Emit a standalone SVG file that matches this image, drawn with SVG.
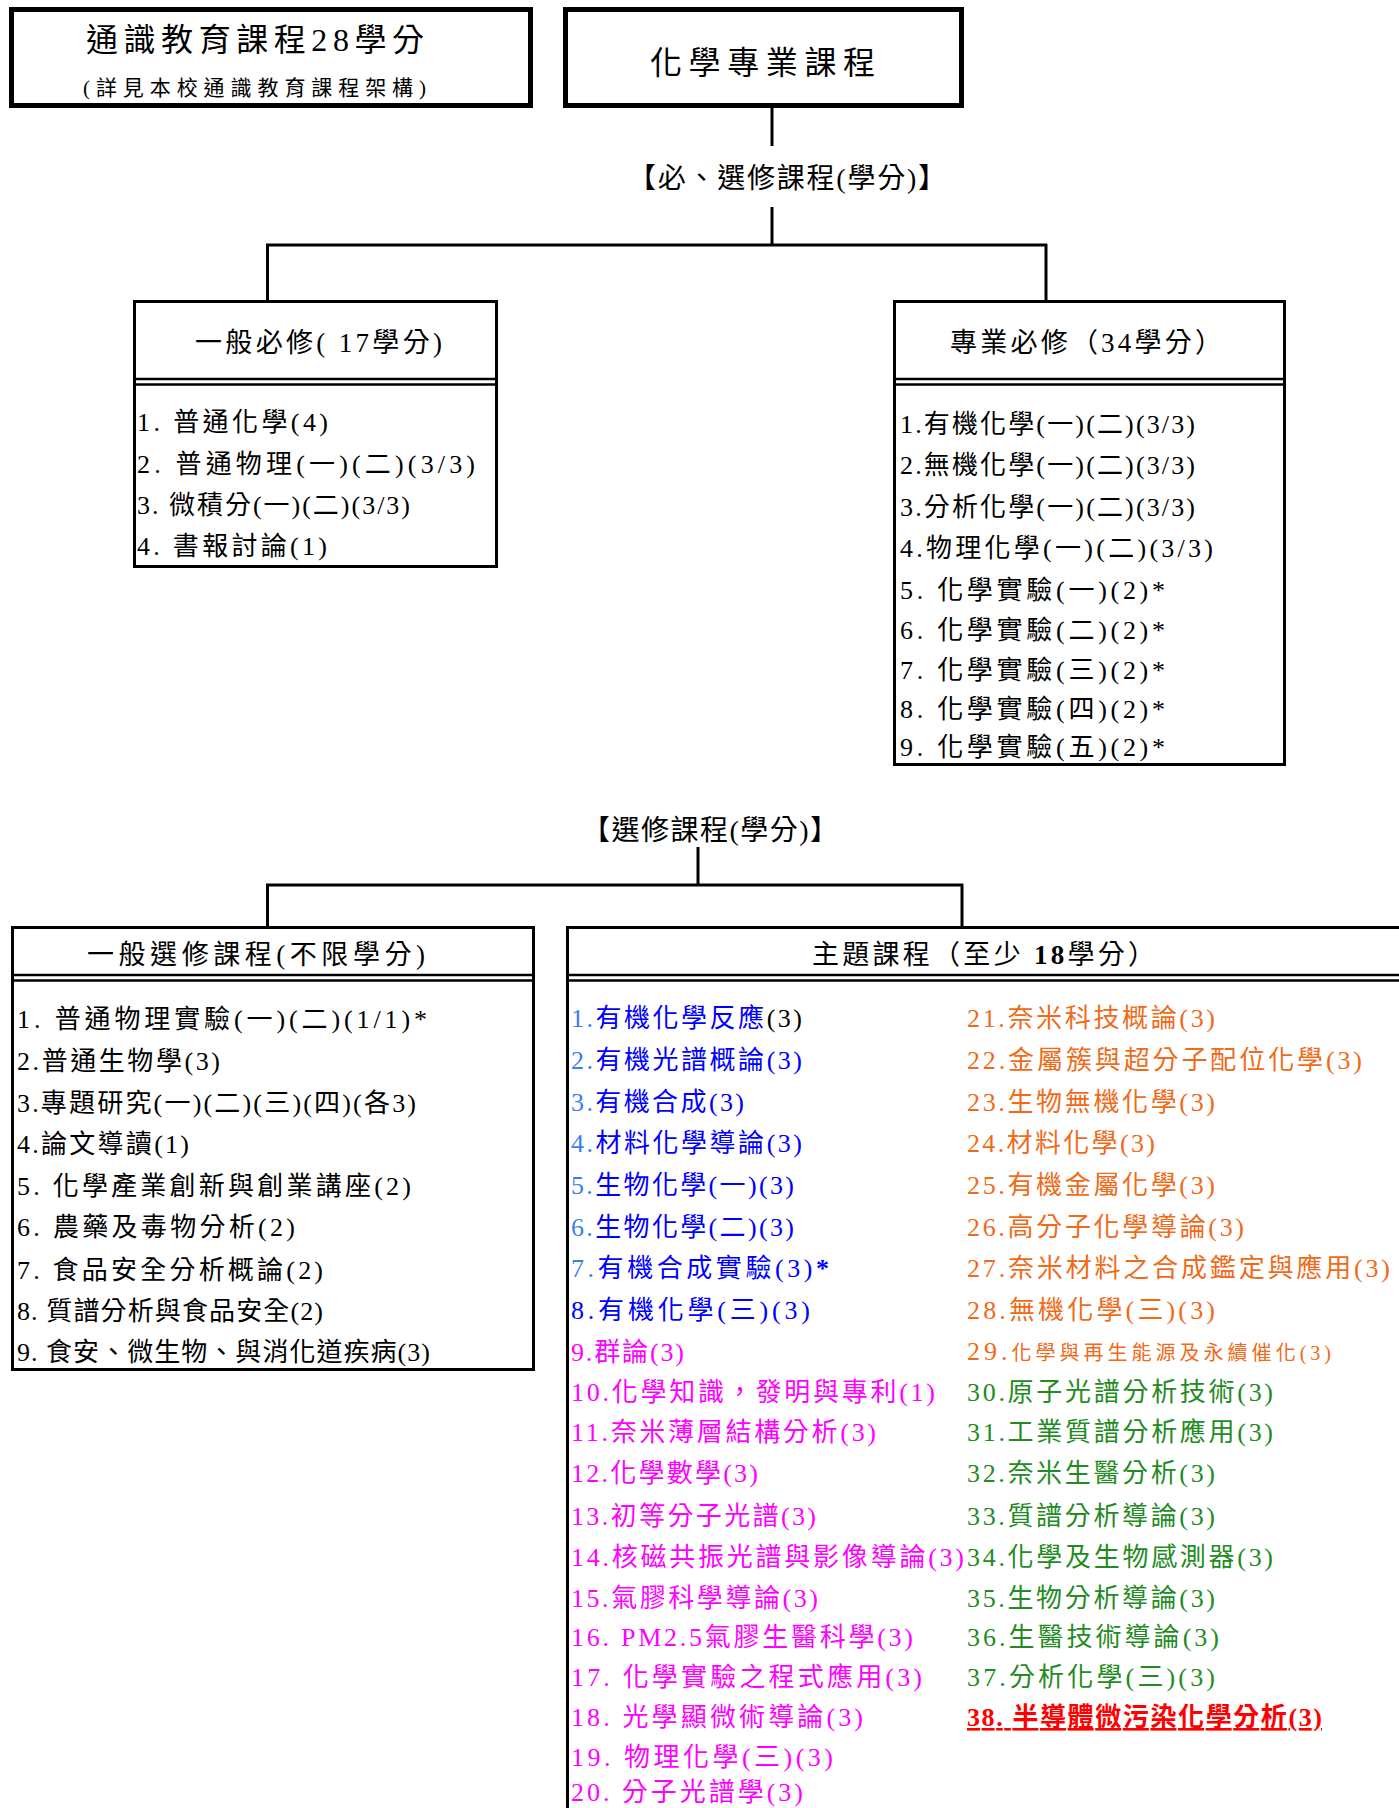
<svg xmlns="http://www.w3.org/2000/svg" width="1399" height="1808" viewBox="0 0 1399 1808">
<style>
  text{font-family:"Liberation Serif","Noto Sans CJK TC",serif;fill:#000}
  .box{fill:#fff;stroke:#000;stroke-width:3}
  .thick{stroke-width:5}
  .div{stroke:#000;stroke-width:2.5}
  .conn{fill:none;stroke:#000;stroke-width:3}
  .h30{font-size:32px}
  .h26{font-size:27px}
  .lab{font-size:28px}
  .it{font-size:26px}
  .lb{fill:#3a7ff0}
  .bl{fill:#0000ff}
  .mg{fill:#ff00ff}
  .or{fill:#f06a18}
  .gr{fill:#228b22}
  .rd{fill:#ff0000;font-weight:bold;text-decoration:underline}
</style>
<rect width="1399" height="1808" fill="#fff"/>

<g id="connectors">
  <path class="conn" d="M772,108 V146 M772,207 V245 M266,245 H1047 M267.5,244 V301 M1046,244 V301"/>
  <path class="conn" d="M698,847 V885 M266,885 H963 M267.5,884 V926 M962,884 V926"/>
</g>

<g id="general-education">
  <rect class="box thick" x="11.5" y="9.5" width="519" height="96"/>
  <text class="h30" x="86" y="51" textLength="338" lengthAdjust="spacing">通識教育課程28學分</text>
  <text x="83" y="95" font-size="21" textLength="343" lengthAdjust="spacing">(詳見本校通識教育課程架構)</text>
</g>

<g id="chem-program">
  <rect class="box thick" x="565.5" y="9.5" width="396" height="96"/>
  <text class="h30" x="650" y="74" textLength="225" lengthAdjust="spacing">化學專業課程</text>
</g>

<g id="label-required">
  <text class="lab" x="628" y="188" textLength="318" lengthAdjust="spacing">【必、選修課程(學分)】</text>
</g>

<g id="general-required">
  <rect class="box" x="134.5" y="301.5" width="362" height="265"/>
  <line class="div" x1="134" y1="379" x2="497" y2="379"/>
  <line class="div" x1="134" y1="384.5" x2="497" y2="384.5"/>
  <text class="h26" x="195" y="352" textLength="247" lengthAdjust="spacing">一般必修( 17學分)</text>
  <text class="it" x="137" y="431" textLength="191" lengthAdjust="spacing">1. 普通化學(4)</text>
  <text class="it" x="137" y="473" textLength="338" lengthAdjust="spacing">2. 普通物理(一)(二)(3/3)</text>
  <text class="it" x="137" y="514" textLength="273" lengthAdjust="spacing">3. 微積分(一)(二)(3/3)</text>
  <text class="it" x="137" y="555" textLength="190" lengthAdjust="spacing">4. 書報討論(1)</text>
</g>

<g id="major-required">
  <rect class="box" x="894.5" y="301.5" width="390" height="463"/>
  <line class="div" x1="894" y1="379" x2="1286" y2="379"/>
  <line class="div" x1="894" y1="384.5" x2="1286" y2="384.5"/>
  <text class="h26" x="950" y="352" textLength="272" lengthAdjust="spacing">專業必修（34學分）</text>
  <text class="it" x="900" y="433" textLength="295" lengthAdjust="spacing">1.有機化學(一)(二)(3/3)</text>
  <text class="it" x="900" y="474" textLength="295" lengthAdjust="spacing">2.無機化學(一)(二)(3/3)</text>
  <text class="it" x="900" y="516" textLength="295" lengthAdjust="spacing">3.分析化學(一)(二)(3/3)</text>
  <text class="it" x="900" y="557" textLength="313" lengthAdjust="spacing">4.物理化學(一)(二)(3/3)</text>
  <text class="it" x="900" y="599" textLength="265" lengthAdjust="spacing">5. 化學實驗(一)(2)*</text>
  <text class="it" x="900" y="639" textLength="265" lengthAdjust="spacing">6. 化學實驗(二)(2)*</text>
  <text class="it" x="900" y="679" textLength="265" lengthAdjust="spacing">7. 化學實驗(三)(2)*</text>
  <text class="it" x="900" y="718" textLength="265" lengthAdjust="spacing">8. 化學實驗(四)(2)*</text>
  <text class="it" x="900" y="756" textLength="265" lengthAdjust="spacing">9. 化學實驗(五)(2)*</text>
</g>

<g id="label-elective">
  <text class="lab" x="582" y="840" textLength="256" lengthAdjust="spacing">【選修課程(學分)】</text>
</g>

<g id="general-elective">
  <rect class="box" x="12.5" y="927.5" width="521" height="442"/>
  <line class="div" x1="12" y1="975" x2="534" y2="975"/>
  <line class="div" x1="12" y1="980.5" x2="534" y2="980.5"/>
  <text class="h26" x="87" y="964" textLength="338" lengthAdjust="spacing">一般選修課程(不限學分)</text>
  <text class="it" x="17" y="1028" textLength="410" lengthAdjust="spacing">1. 普通物理實驗(一)(二)(1/1)*</text>
  <text class="it" x="17" y="1070" textLength="203" lengthAdjust="spacing">2.普通生物學(3)</text>
  <text class="it" x="17" y="1112" textLength="399" lengthAdjust="spacing">3.專題研究(一)(二)(三)(四)(各3)</text>
  <text class="it" x="17" y="1153" textLength="172" lengthAdjust="spacing">4.論文導讀(1)</text>
  <text class="it" x="17" y="1195" textLength="394" lengthAdjust="spacing">5. 化學產業創新與創業講座(2)</text>
  <text class="it" x="17" y="1236" textLength="278" lengthAdjust="spacing">6. 農藥及毒物分析(2)</text>
  <text class="it" x="17" y="1279" textLength="306" lengthAdjust="spacing">7. 食品安全分析概論(2)</text>
  <text class="it" x="17" y="1320" textLength="306" lengthAdjust="spacing">8. 質譜分析與食品安全(2)</text>
  <text class="it" x="17" y="1361" textLength="413" lengthAdjust="spacing">9. 食安、微生物、與消化道疾病(3)</text>
</g>

<g id="thematic-courses">
  <path d="M1400,927.5 H567.5 V1810" fill="none" stroke="#000" stroke-width="3"/>
  <line class="div" x1="566" y1="975" x2="1399" y2="975"/>
  <line class="div" x1="566" y1="980.5" x2="1399" y2="980.5"/>
  <text class="h26" x="812" y="964" textLength="343" lengthAdjust="spacing">主題課程（至少 <tspan font-weight="bold">18</tspan>學分）</text>

  <text class="it" x="571" y="1027" textLength="231" lengthAdjust="spacing"><tspan class="lb">1.</tspan><tspan class="bl">有機化學反應</tspan>(3)</text>
  <text class="it bl" x="571" y="1069" textLength="231" lengthAdjust="spacing"><tspan class="lb">2.</tspan>有機光譜概論(3)</text>
  <text class="it bl" x="571" y="1111" textLength="173" lengthAdjust="spacing"><tspan class="lb">3.</tspan>有機合成(3)</text>
  <text class="it bl" x="571" y="1152" textLength="231" lengthAdjust="spacing"><tspan class="lb">4.</tspan>材料化學導論(3)</text>
  <text class="it bl" x="571" y="1194" textLength="223" lengthAdjust="spacing"><tspan class="lb">5.</tspan>生物化學(一)(3)</text>
  <text class="it bl" x="571" y="1236" textLength="223" lengthAdjust="spacing"><tspan class="lb">6.</tspan>生物化學(二)(3)</text>
  <text class="it bl" x="571" y="1277" textLength="258" lengthAdjust="spacing"><tspan class="lb">7.</tspan>有機合成實驗(3)<tspan font-weight="bold">*</tspan></text>
  <text class="it bl" x="571" y="1319" textLength="239" lengthAdjust="spacing">8.有機化學(三)(3)</text>
  <text class="it mg" x="571" y="1361" textLength="113" lengthAdjust="spacing">9.群論(3)</text>
  <text class="it mg" x="571" y="1401" textLength="364" lengthAdjust="spacing">10.化學知識，發明與專利(1)</text>
  <text class="it mg" x="571" y="1441" textLength="305" lengthAdjust="spacing">11.奈米薄層結構分析(3)</text>
  <text class="it mg" x="571" y="1482" textLength="187" lengthAdjust="spacing">12.化學數學(3)</text>
  <text class="it mg" x="571" y="1525" textLength="245" lengthAdjust="spacing">13.初等分子光譜(3)</text>
  <text class="it mg" x="571" y="1566" textLength="393" lengthAdjust="spacing">14.核磁共振光譜與影像導論(3)</text>
  <text class="it mg" x="571" y="1607" textLength="247" lengthAdjust="spacing">15.氣膠科學導論(3)</text>
  <text class="it mg" x="571" y="1646" textLength="342" lengthAdjust="spacing">16. PM2.5氣膠生醫科學(3)</text>
  <text class="it mg" x="571" y="1686" textLength="351" lengthAdjust="spacing">17. 化學實驗之程式應用(3)</text>
  <text class="it mg" x="571" y="1726" textLength="292" lengthAdjust="spacing">18. 光學顯微術導論(3)</text>
  <text class="it mg" x="571" y="1766" textLength="262" lengthAdjust="spacing">19. 物理化學(三)(3)</text>
  <text class="it mg" x="571" y="1801" textLength="232" lengthAdjust="spacing">20. 分子光譜學(3)</text>

  <text class="it or" x="967" y="1027" textLength="248" lengthAdjust="spacing">21.奈米科技概論(3)</text>
  <text class="it or" x="967" y="1069" textLength="395" lengthAdjust="spacing">22.金屬簇與超分子配位化學(3)</text>
  <text class="it or" x="967" y="1111" textLength="248" lengthAdjust="spacing">23.生物無機化學(3)</text>
  <text class="it or" x="967" y="1152" textLength="188" lengthAdjust="spacing">24.材料化學(3)</text>
  <text class="it or" x="967" y="1194" textLength="248" lengthAdjust="spacing">25.有機金屬化學(3)</text>
  <text class="it or" x="967" y="1236" textLength="277" lengthAdjust="spacing">26.高分子化學導論(3)</text>
  <text class="it or" x="967" y="1277" textLength="423" lengthAdjust="spacing">27.奈米材料之合成鑑定與應用(3)</text>
  <text class="it or" x="967" y="1319" textLength="248" lengthAdjust="spacing">28.無機化學(三)(3)</text>
  <text class="it or" x="967" y="1360" textLength="364" lengthAdjust="spacing">29.<tspan font-size="20">化學與再生能源及永續催化(3)</tspan></text>
  <text class="it gr" x="967" y="1401" textLength="306" lengthAdjust="spacing">30.原子光譜分析技術(3)</text>
  <text class="it gr" x="967" y="1441" textLength="306" lengthAdjust="spacing">31.工業質譜分析應用(3)</text>
  <text class="it gr" x="967" y="1482" textLength="248" lengthAdjust="spacing">32.奈米生醫分析(3)</text>
  <text class="it gr" x="967" y="1525" textLength="248" lengthAdjust="spacing">33.質譜分析導論(3)</text>
  <text class="it gr" x="967" y="1566" textLength="306" lengthAdjust="spacing">34.化學及生物感測器(3)</text>
  <text class="it gr" x="967" y="1607" textLength="248" lengthAdjust="spacing">35.生物分析導論(3)</text>
  <text class="it gr" x="967" y="1646" textLength="252" lengthAdjust="spacing">36.生醫技術導論(3)</text>
  <text class="it gr" x="967" y="1686" textLength="248" lengthAdjust="spacing">37.分析化學(三)(3)</text>
  <text class="it rd" x="967" y="1726" textLength="355" lengthAdjust="spacing">38. 半導體微污染化學分析(3)</text>
</g>
</svg>
